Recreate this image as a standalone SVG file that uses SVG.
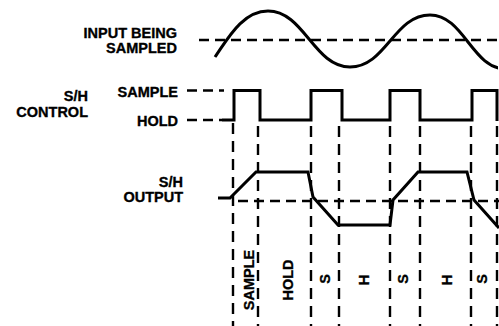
<svg xmlns="http://www.w3.org/2000/svg" width="499" height="326" viewBox="0 0 499 326">
<style>
.lbl{font-family:"Liberation Sans",Arial,Helvetica,sans-serif;font-weight:bold;font-size:14.5px;fill:#000;stroke:#000;stroke-width:0.35;text-anchor:end}
.rot{font-family:"Liberation Sans",Arial,Helvetica,sans-serif;font-weight:bold;font-size:14.5px;fill:#000;stroke:#000;stroke-width:0.35;text-anchor:middle}
.wave{fill:none;stroke:#000;stroke-width:3;stroke-linejoin:miter;stroke-linecap:butt}
.dash{fill:none;stroke:#000;stroke-width:2.4;stroke-dasharray:10 6}
.vdash{fill:none;stroke:#000;stroke-width:2.4;stroke-dasharray:11 7}
</style>
<defs>
<clipPath id="clipR"><rect x="0" y="0" width="498" height="326"/></clipPath>
</defs>
<rect width="499" height="326" fill="#fff"/>
<g id="labels">
<text class="lbl" x="177" y="38">INPUT BEING</text>
<text class="lbl" x="177" y="53">SAMPLED</text>
<text class="lbl" x="88" y="101">S/H</text>
<text class="lbl" x="88" y="117">CONTROL</text>
<text class="lbl" x="178" y="97">SAMPLE</text>
<text class="lbl" x="178" y="126">HOLD</text>
<text class="lbl" x="183" y="187">S/H</text>
<text class="lbl" x="183" y="202">OUTPUT</text>
</g>
<g id="connectors">
<path class="dash" d="M199,40 H499"/>
<path class="dash" d="M187,90.5 H224"/>
<path class="dash" d="M187,120 H222"/>
<path class="dash" d="M238,201 H499"/>
<path class="vdash" d="M233,123 V326 M258,126 V326 M311,126 V326 M339,126 V326 M390,126 V326 M420,126 V326 M471,126 V326 M497,126 V326"/>
</g>
<g id="input">
<path class="wave" clip-path="url(#clipR)" d="M215,57 C227,40 242,11 268,11 C304,11 314,67 350,67 C386,67 394,15 430,15 C464,15 472,69 506,69"/>
</g>
<g id="control">
<path class="wave" d="M222,120 H234 V90.5 H260 V120 H311 V90.5 H342 V120 H390 V90.5 H420 V120 H472 V90.5 H497 V121"/>
</g>
<g id="output">
<path class="wave" stroke-width="3.2" d="M218,198 H230 L256,172 H308 L313,197 L338,225 H390 L393,200 L418,172 H467 L474,200 L499,228"/>
</g>
<g id="phases">
<text class="rot" transform="translate(254,280) rotate(-90)">SAMPLE</text>
<text class="rot" transform="translate(293,280) rotate(-90)">HOLD</text>
<text class="rot" transform="translate(330,279) rotate(-90)">S</text>
<text class="rot" transform="translate(369,280) rotate(-90)">H</text>
<text class="rot" transform="translate(408,279) rotate(-90)">S</text>
<text class="rot" transform="translate(452,280) rotate(-90)">H</text>
<text class="rot" transform="translate(487,279) rotate(-90)">S</text>
</g>
</svg>
